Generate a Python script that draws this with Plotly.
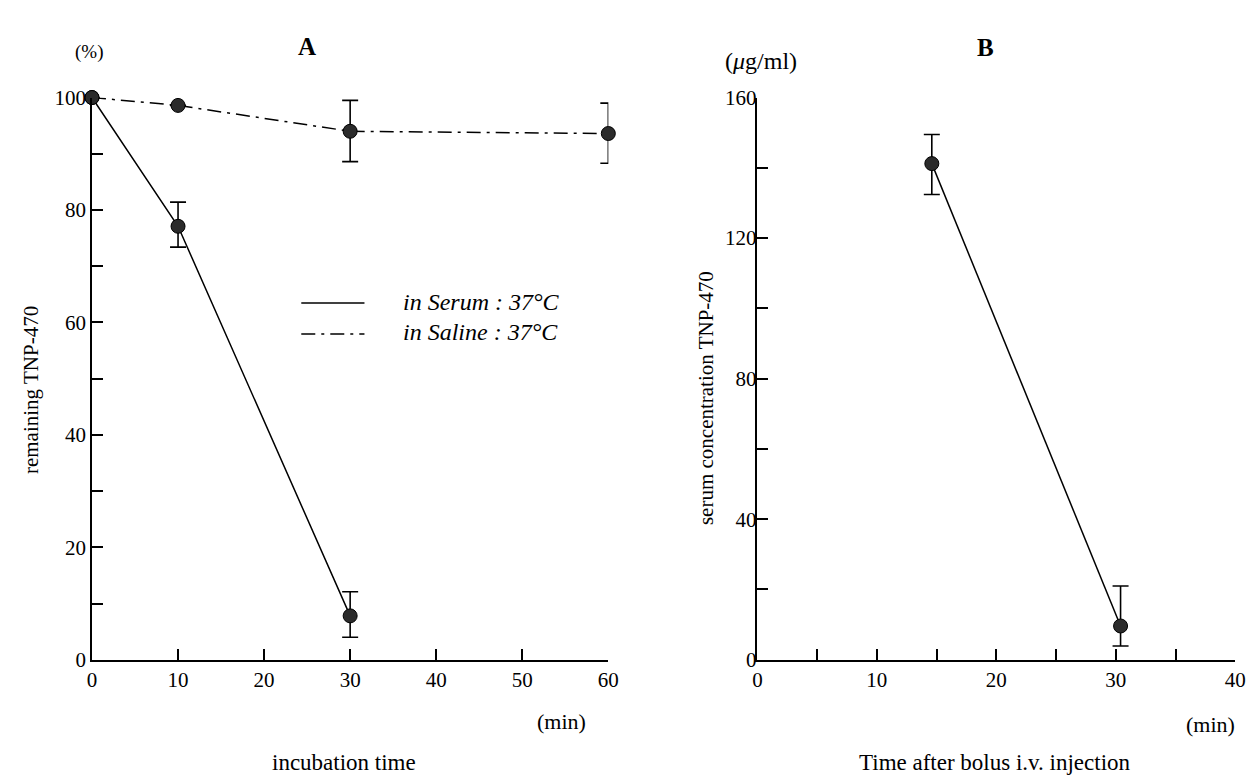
import plotly.graph_objects as go

# ---------------- data ----------------
# Panel A: remaining TNP-470 (%) vs incubation time (min)
serum_t = [0, 10, 30]
serum_v = [100, 77.1, 7.8]
serum_err_plus = [None, 4.3, 4.3]
serum_err_minus = [None, 3.7, 3.8]

saline_t = [0, 10, 30, 60]
saline_v = [100, 98.6, 94.0, 93.6]
saline_err_plus = [None, None, 5.5, 5.4]
saline_err_minus = [None, None, 5.4, 5.3]

# Panel B: serum concentration (ug/ml) vs time after bolus i.v. injection (min)
bolus_t = [14.6, 30.4]
bolus_v = [141.2, 9.6]
bolus_err_plus = [8.3, 11.4]
bolus_err_minus = [8.8, 5.7]

a_xticks = [0, 10, 20, 30, 40, 50, 60]
a_yticks = [0, 10, 20, 30, 40, 50, 60, 70, 80, 90, 100]
a_ylabels = ["0", "", "20", "", "40", "", "60", "", "80", "", "100"]
b_xticks = [0, 5, 10, 15, 20, 25, 30, 35, 40]
b_xlabels = ["0", "", "10", "", "20", "", "30", "", "40"]
b_yticks_marks = [0, 20, 40, 60, 80, 100, 120, 140]
b_ylabels = [0, 40, 80, 120, 160]

# ---------------- layout helpers ----------------
W, H = 1257, 781
FONT = "Liberation Serif"

def px(x):
    return x / W

def py(y):
    return (H - y) / H

x_dom_a = [px(80), px(603)]
x_dom_b = [px(754), px(1238)]
y_dom = [py(660), py(80)]

marker = dict(size=14, color="#2b2b2b", line=dict(color="black", width=1))

fig = go.Figure()

fig.add_trace(go.Scatter(
    x=serum_t, y=serum_v, xaxis="x", yaxis="y", mode="lines+markers",
    line=dict(color="black", width=1.5), marker=marker, cliponaxis=False,
    error_y=dict(type="data", array=serum_err_plus, arrayminus=serum_err_minus,
                 color="black", thickness=1.6, width=8),
    name="in Serum : 37°C", showlegend=False))

fig.add_trace(go.Scatter(
    x=saline_t, y=saline_v, xaxis="x", yaxis="y", mode="lines+markers",
    line=dict(color="black", width=1.5, dash="14px,6px,3px,6px"), marker=marker,
    cliponaxis=False,
    error_y=dict(type="data", array=saline_err_plus, arrayminus=saline_err_minus,
                 color="black", thickness=1.6, width=8),
    name="in Saline : 37°C", showlegend=False))

fig.add_trace(go.Scatter(
    x=bolus_t, y=bolus_v, xaxis="x2", yaxis="y2", mode="lines+markers",
    line=dict(color="black", width=1.5), marker=marker, cliponaxis=False,
    error_y=dict(type="data", array=bolus_err_plus, arrayminus=bolus_err_minus,
                 color="black", thickness=1.6, width=8),
    showlegend=False))

# invisible trace so the label-only overlay axis is drawn
fig.add_trace(go.Scatter(x=[None], y=[None], xaxis="x2", yaxis="y3",
                         mode="markers", showlegend=False, hoverinfo="skip"))

tickfont = dict(family=FONT, size=21, color="black")
axis_common = dict(showgrid=False, zeroline=False, showline=True, linecolor="black",
                   linewidth=1.8, ticks="inside", ticklen=11, tickwidth=1.5,
                   tickcolor="black", tickfont=tickfont, fixedrange=True)

fig.update_layout(
    width=W, height=H, autosize=False,
    margin=dict(l=0, r=0, t=0, b=0),
    paper_bgcolor="white", plot_bgcolor="white",
    font=dict(family=FONT, color="black"),
    xaxis=dict(domain=x_dom_a, range=[0, 60], anchor="y", tickmode="array",
               tickvals=a_xticks, ticktext=[str(v) for v in a_xticks], **axis_common),
    yaxis=dict(domain=y_dom, range=[0, 100], anchor="x", tickmode="array",
               tickvals=a_yticks, ticktext=a_ylabels, **axis_common),
    xaxis2=dict(domain=x_dom_b, range=[0, 40], anchor="y2", tickmode="array",
                tickvals=b_xticks, ticktext=b_xlabels, **axis_common),
    yaxis2=dict(domain=y_dom, range=[0, 160], anchor="x2", tickmode="array",
                tickvals=b_yticks_marks, showticklabels=False, **axis_common),
    yaxis3=dict(overlaying="y2", anchor="x2", range=[0, 160], tickmode="array",
                tickvals=b_ylabels, ticktext=[str(v) for v in b_ylabels],
                showgrid=False, zeroline=False, showline=False, ticks="",
                tickfont=tickfont, fixedrange=True, side="left"),
)

ann = []
def text(x, y, s, size=20, xanchor="center", **kw):
    ann.append(dict(x=px(x), y=py(y), xref="paper", yref="paper", text=s,
                    xanchor=xanchor, yanchor="middle", showarrow=False,
                    font=dict(family=FONT, size=size, color="black"), **kw))

text(298, 27, "<b>A</b>", size=25)
text(985, 28, "<b>B</b>", size=25)
text(77, 33, "(%)", size=19)
text(758, 42, "(<i>μ</i>g/ml)", size=24)
text(556, 724, "(min)", size=22)
text(1213, 727, "(min)", size=22)
text(335, 766, "incubation time", size=23)
text(995, 766, "Time after bolus i.v. injection", size=23)
text(18, 382, "remaining TNP-470", size=21, textangle=-90)
text(702, 390, "serum concentration TNP-470", size=21, textangle=-90)
# legend entries
text(393, 291, "<i>in Serum : 37°C</i>", size=24, xanchor="left")
text(393, 322, "<i>in Saline : 37°C</i>", size=24, xanchor="left")

fig.update_layout(annotations=ann)

fig.add_shape(type="line", xref="paper", yref="paper", x0=px(292), x1=px(356),
              y0=py(292), y1=py(292), line=dict(color="black", width=1.5))
fig.add_shape(type="line", xref="paper", yref="paper", x0=px(292), x1=px(356),
              y0=py(324), y1=py(324),
              line=dict(color="black", width=1.5, dash="14px,6px,3px,6px"))

fig.write_html("out.html")
